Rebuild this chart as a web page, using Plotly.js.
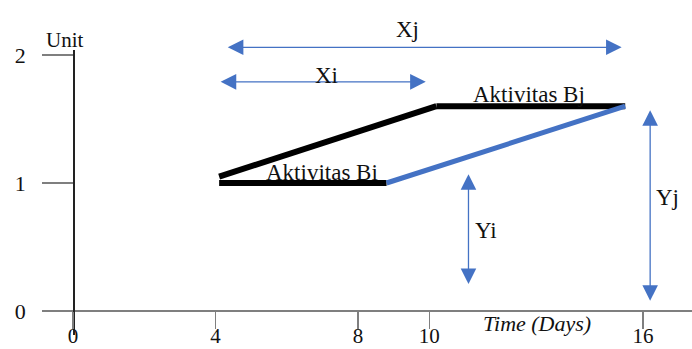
<!DOCTYPE html>
<html>
<head>
<meta charset="utf-8">
<script src="https://cdn.plot.ly/plotly-3.0.1.min.js"></script>
<style>
  html, body { margin: 0; padding: 0; background: #fff; }
  #chart { width: 692px; height: 349px; }
</style>
</head>
<body>
<div id="chart"></div>
<script>
// axis ticks
var xTicks = [0, 4, 8, 10, 16];
var yTicks = [0, 1, 2];

// activity lines (days, units)
var biX = [4.1, 8.8];
var biY = [1, 1];
var linkX = [4.1, 10.2];
var linkY = [1.05, 1.6];
var bjX = [10.2, 15.5];
var bjY = [1.6, 1.6];
var blueX = [8.8, 15.5];
var blueY = [1, 1.6];

// dimension arrows
var arrowX0 = [4.3, 4.1, 11.1, 16.2];
var arrowX1 = [15.4, 9.9, 11.1, 16.2];
var arrowY0 = [2.06, 1.79, 1.08, 1.58];
var arrowY1 = [2.06, 1.79, 0.21, 0.08];

// text labels
var labelText = ["Xj", "Xi", "Aktivitas Bj", "Aktivitas Bi", "Yi", "Yj"];
var labelX = [9.4, 7.1, 12.8, 7.0, 11.6, 16.7];
var labelY = [2.2, 1.84, 1.69, 1.08, 0.63, 0.89];

var xRange = [-0.873, 17.375];
var yRange = [-0.1875, 2.039];
var serif = '"Liberation Serif", "Times New Roman", serif';
var blue = "#4472C4";

// y value -> paper fraction, so labels above the plot area still show
function toPaper(v) { return (v - yRange[0]) / (yRange[1] - yRange[0]); }

var traces = [
  { x: biX, y: biY, mode: "lines", line: { color: "#000", width: 6 }, hoverinfo: "skip" },
  { x: linkX, y: linkY, mode: "lines", line: { color: "#000", width: 6 }, hoverinfo: "skip" },
  { x: bjX, y: bjY, mode: "lines", line: { color: "#000", width: 6 }, hoverinfo: "skip" },
  { x: blueX, y: blueY, mode: "lines", line: { color: blue, width: 5 }, hoverinfo: "skip" }
];

var annotations = [];
arrowX0.forEach(function (x0, i) {
  var a = {
    x: arrowX1[i], ax: x0, xref: "x", axref: "x",
    text: "", showarrow: true, arrowside: "end+start",
    arrowhead: 2, arrowsize: 2.4, arrowwidth: 1.3, arrowcolor: blue
  };
  if (arrowY0[i] === arrowY1[i]) {
    a.y = toPaper(arrowY1[i]); a.yref = "paper"; a.ay = 0; a.ayref = "pixel";
  } else {
    a.y = arrowY1[i]; a.yref = "y"; a.ay = arrowY0[i]; a.ayref = "y";
  }
  annotations.push(a);
});
labelText.forEach(function (t, i) {
  annotations.push({
    x: labelX[i], y: toPaper(labelY[i]), xref: "x", yref: "paper",
    xanchor: "center", yanchor: "middle",
    text: t, showarrow: false, font: { family: serif, size: 23, color: "#111" }
  });
});
annotations.push({
  x: 0.035, y: 1.035, xref: "paper", yref: "paper", text: "Unit",
  xanchor: "center", yanchor: "middle",
  showarrow: false, font: { family: serif, size: 21, color: "#111" }
});
annotations.push({
  x: 0.762, y: 0.04, xref: "paper", yref: "paper", text: "<i>Time (Days)</i>",
  xanchor: "center", yanchor: "middle",
  showarrow: false, font: { family: serif, size: 22, color: "#111" }
});

var xPos = toPaper(0);
var yPos = (0 - xRange[0]) / (xRange[1] - xRange[0]);

var layout = {
  width: 692, height: 349,
  margin: { l: 42, r: 0, t: 50, b: 14 },
  paper_bgcolor: "#fff", plot_bgcolor: "#fff",
  showlegend: false,
  font: { family: serif },
  xaxis: {
    range: xRange, tickvals: xTicks, anchor: "free", position: xPos,
    showline: true, linecolor: "#7f7f7f", linewidth: 2,
    ticks: "outside", ticklen: 17, tickwidth: 1.5, tickcolor: "#7f7f7f",
    ticklabelstandoff: -11,
    showgrid: false, zeroline: false, automargin: false,
    tickfont: { family: serif, size: 21, color: "#111" }
  },
  yaxis: {
    range: yRange, tickvals: yTicks, anchor: "free", position: yPos,
    showline: true, linecolor: "#222", linewidth: 1.5,
    ticks: "outside", ticklen: 31, tickwidth: 1.5, tickcolor: "#7f7f7f",
    ticklabelstandoff: 12,
    showgrid: false, zeroline: false, automargin: false,
    tickfont: { family: serif, size: 22, color: "#111" }
  },
  yaxis2: {
    range: yRange, tickvals: yTicks, overlaying: "y", anchor: "free", position: yPos,
    showline: false, ticks: "inside", ticklen: 33, tickwidth: 1.5, tickcolor: "#7f7f7f",
    showticklabels: false, showgrid: false, zeroline: false, automargin: false
  },
  annotations: annotations
};

Plotly.newPlot("chart", traces, layout, { staticPlot: true, displayModeBar: false });
</script>
</body>
</html>
